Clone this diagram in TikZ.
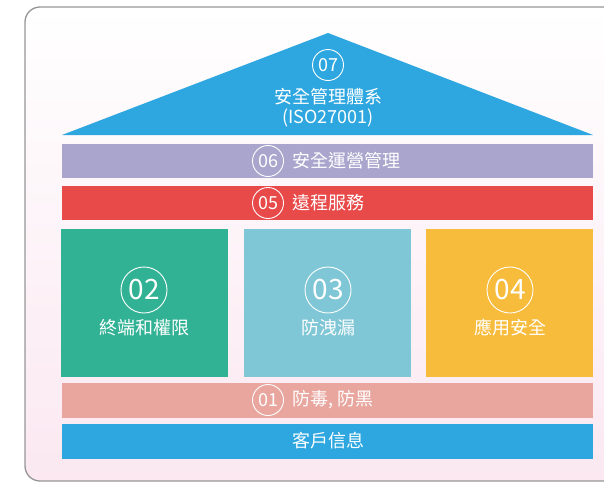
\documentclass[tikz,border=0pt]{standalone}
\usepackage{fontspec}
\setmainfont{Noto Sans CJK TC}
\usepackage{tikz}
\usetikzlibrary{positioning}
\definecolor{framegray}{RGB}{150,150,150}
\definecolor{pinkbg}{RGB}{251,232,241}
\definecolor{roofblue}{RGB}{46,167,224}
\definecolor{lavender}{RGB}{170,165,205}
\definecolor{alertred}{RGB}{232,74,74}
\definecolor{pillargreen}{RGB}{50,178,148}
\definecolor{pillarblue}{RGB}{127,198,214}
\definecolor{pillaryellow}{RGB}{247,188,60}
\definecolor{salmon}{RGB}{232,166,158}

\begin{document}
\begin{tikzpicture}[x=1pt,y=-1pt,
		numring/.style={circle,draw=white,line width=0.9pt,text=white,inner sep=0pt,minimum size=31pt,font=\fontsize{18}{18}\selectfont},
		bignumring/.style={numring,minimum size=46pt,font=\fontsize{28}{28}\selectfont},
		caption/.style={text=white,inner sep=0pt,font=\fontsize{18}{18}\selectfont}]
			%%%%% START %%%%%
			
			\useasboundingbox (0,0) rectangle (604,482);
			\shade[top color=white,bottom color=pinkbg,draw=framegray,line width=1.3pt,rounded corners=15pt] (25,7) rectangle (640,481);
			
			\fill[roofblue] (62,135) -- (328,33) -- (593,135) -- cycle;
			\node[numring] (n07) at (328,65) {07};
			\node[caption] (t07) at (328,97) {安全管理體系};
			\node[caption] (iso) at (328,118) {(ISO27001)};
			
			\fill[lavender] (62,144) rectangle (593,178);
			\node[numring] (n06) at (268,161) {06};
			\node[caption,right=8pt of n06] (t06) {安全運營管理};
			
			\fill[alertred] (62,186) rectangle (593,220);
			\node[numring] (n05) at (268,203) {05};
			\node[caption,right=8pt of n05] (t05) {遠程服務};
			
			\fill[pillargreen] (61,229) rectangle (228,377);
			\node[bignumring] (n02) at (144,290) {02};
			\node[caption] (t02) at (144,328) {終端和權限};
			
			\fill[pillarblue] (244,229) rectangle (411,377);
			\node[bignumring] (n03) at (328,290) {03};
			\node[caption] (t03) at (328,328) {防洩漏};
			
			\fill[pillaryellow] (426,229) rectangle (593,377);
			\node[bignumring] (n04) at (510,290) {04};
			\node[caption] (t04) at (510,328) {應用安全};
			
			\fill[salmon] (62,383) rectangle (593,418);
			\node[numring] (n01) at (268,400) {01};
			\node[caption,right=8pt of n01] (t01) {防毒, 防黑};
			
			\fill[roofblue] (62,424) rectangle (593,459);
			\node[caption] (base) at (328,441) {客戶信息};
			
			%%%%% END %%%%%
		\end{tikzpicture}
\end{document}
